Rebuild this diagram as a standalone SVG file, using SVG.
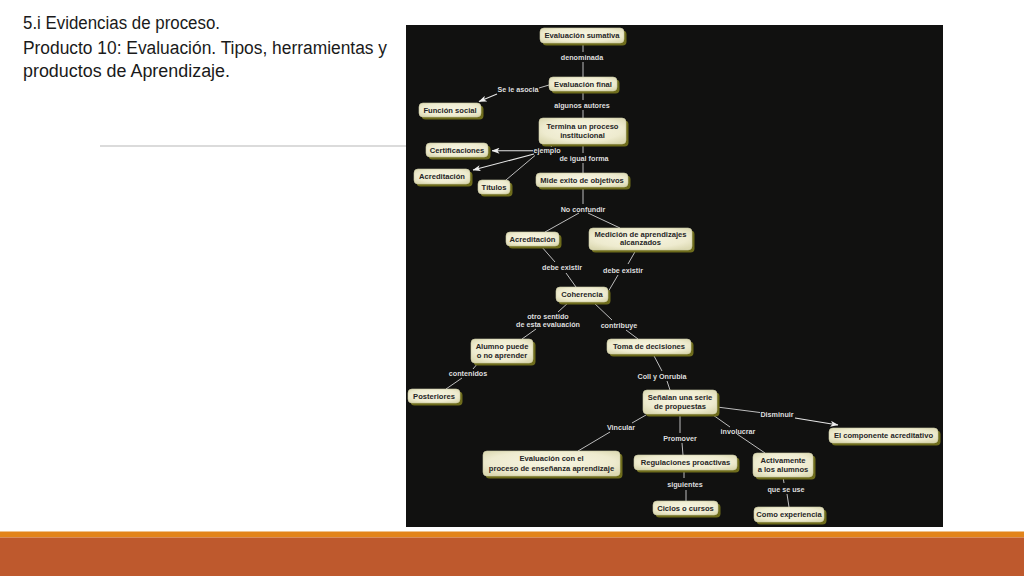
<svg xmlns="http://www.w3.org/2000/svg" width="1024" height="576" viewBox="0 0 1024 576">
<defs>
<radialGradient id="nf" cx="50%" cy="45%" r="65%">
<stop offset="0" stop-color="#F7F5E2"/>
<stop offset="0.7" stop-color="#EEEBCF"/>
<stop offset="1" stop-color="#DCD9B2"/>
</radialGradient>
<marker id="ar" viewBox="0 0 8 6" refX="7.5" refY="3" markerWidth="8" markerHeight="6" markerUnits="userSpaceOnUse" orient="auto">
<path d="M0,0 L8,3 L0,6 L2,3 z" fill="#eeeeee"/>
</marker>
</defs>
<style>
.title{font-family:"Liberation Sans",Arial,sans-serif;font-size:18px;fill:#1a1a1a}
.sh{fill:#6E6C1C}
.face{fill:url(#nf);stroke:#CFCCA8;stroke-width:0.6}
.nt{font-family:"Liberation Sans",Arial,sans-serif;font-size:7.6px;font-weight:bold;fill:#262626;text-anchor:middle}
.lb{font-family:"Liberation Sans",Arial,sans-serif;font-size:7.2px;font-weight:bold;fill:#dedede;text-anchor:middle}
.ln{stroke:#bdbdbd;stroke-width:1;fill:none}
.arw{stroke:#e6e6e6;stroke-width:1.1;fill:none;marker-end:url(#ar)}
</style>
<rect x="0" y="0" width="1024" height="576" fill="#ffffff"/>
<text class="title" x="23" y="29" textLength="197" lengthAdjust="spacingAndGlyphs">5.i Evidencias de proceso.</text>
<text class="title" x="23" y="53.5" textLength="364" lengthAdjust="spacingAndGlyphs">Producto 10: Evaluación. Tipos, herramientas y</text>
<text class="title" x="23" y="77" textLength="207" lengthAdjust="spacingAndGlyphs">productos de Aprendizaje.</text>
<line x1="100" y1="146" x2="406" y2="146" stroke="#cfcfcf" stroke-width="1.5"/>
<rect x="406" y="25" width="537" height="502" fill="#111110"/>
<rect x="0" y="531.5" width="1024" height="6" fill="#E2841B"/>
<rect x="0" y="537.5" width="1024" height="38.5" fill="#BE592D"/>

<g id="connectors">
<line class="ln" x1="583" y1="43" x2="583" y2="52"/>
<text class="lb" x="582" y="59.5">denominada</text>
<line class="ln" x1="583" y1="62" x2="583" y2="77"/>

<line class="ln" x1="549" y1="85" x2="539" y2="88"/>
<text class="lb" x="518" y="91.5">Se le asocia</text>
<line class="arw" x1="497" y1="94" x2="479" y2="101.5"/>

<line class="ln" x1="583" y1="91" x2="583" y2="100"/>
<text class="lb" x="582" y="107.5">algunos autores</text>
<line class="ln" x1="583" y1="110" x2="583" y2="118"/>

<line class="ln" x1="553" y1="144" x2="551" y2="147"/>
<text class="lb" x="547" y="153">ejemplo</text>
<line class="arw" x1="533" y1="150.7" x2="492" y2="150.7"/>
<line class="arw" x1="534" y1="154" x2="473" y2="170"/>
<line class="ln" x1="535" y1="155.5" x2="506" y2="180"/>

<line class="ln" x1="583" y1="144" x2="583" y2="153"/>
<text class="lb" x="584" y="160.5">de igual forma</text>
<line class="ln" x1="583" y1="163" x2="583" y2="173"/>

<line class="ln" x1="583" y1="189" x2="583" y2="204"/>
<text class="lb" x="583" y="211.5">No confundir</text>
<line class="ln" x1="579" y1="213" x2="545" y2="232"/>
<line class="ln" x1="588" y1="213" x2="620" y2="228"/>

<line class="ln" x1="541" y1="246" x2="555" y2="262"/>
<text class="lb" x="562" y="269.5">debe existir</text>
<line class="ln" x1="566" y1="273" x2="576" y2="287"/>

<line class="ln" x1="636" y1="250" x2="628" y2="264"/>
<text class="lb" x="623" y="272.5">debe existir</text>
<line class="ln" x1="618" y1="275" x2="608" y2="292"/>

<line class="ln" x1="569" y1="302" x2="558" y2="312"/>
<text class="lb" x="548" y="319">otro sentido</text>
<text class="lb" x="548" y="327">de esta evaluación</text>
<line class="ln" x1="536" y1="329" x2="522" y2="339"/>

<line class="ln" x1="593" y1="302" x2="612" y2="320"/>
<text class="lb" x="619" y="327.5">contribuye</text>
<line class="ln" x1="626" y1="330" x2="638" y2="339"/>

<line class="ln" x1="478" y1="363" x2="473" y2="369"/>
<text class="lb" x="468" y="375.5">contenidos</text>
<line class="ln" x1="462" y1="378" x2="446" y2="389"/>

<line class="ln" x1="653" y1="354" x2="662" y2="371"/>
<text class="lb" x="662" y="378.5">Coll y Onrubia</text>
<line class="ln" x1="667" y1="381" x2="670" y2="390"/>

<line class="ln" x1="646" y1="415" x2="632" y2="423"/>
<text class="lb" x="621" y="429.5">Vincular</text>
<line class="ln" x1="610" y1="432" x2="578" y2="451"/>

<line class="ln" x1="680" y1="415" x2="680" y2="433"/>
<text class="lb" x="680" y="440.5">Promover</text>
<line class="ln" x1="682" y1="443" x2="683" y2="455"/>

<line class="ln" x1="713" y1="415" x2="730" y2="427"/>
<text class="lb" x="738" y="433.5">involucrar</text>
<line class="ln" x1="737" y1="434" x2="765" y2="453"/>

<line class="ln" x1="717" y1="407" x2="760" y2="412.5"/>
<text class="lb" x="777" y="416.5">Disminuir</text>
<line class="arw" x1="795" y1="418" x2="838" y2="425"/>

<line class="ln" x1="684" y1="470" x2="684" y2="478"/>
<text class="lb" x="685" y="486.5">siguientes</text>
<line class="ln" x1="686" y1="490" x2="686" y2="501"/>

<line class="ln" x1="783" y1="477" x2="784" y2="483"/>
<text class="lb" x="786" y="491.5">que se use</text>
<line class="ln" x1="787" y1="494" x2="789" y2="507"/>
</g>

<g id="n-sumativa"><rect class="sh" x="542.5" y="30.5" width="84" height="15" rx="4"/><rect class="face" x="540" y="28" width="84" height="15" rx="4"/><text class="nt" x="582" y="38.3">Evaluación sumativa</text></g>
<g id="n-final"><rect class="sh" x="551.5" y="79.5" width="68" height="14" rx="4"/><rect class="face" x="549" y="77" width="68" height="14" rx="4"/><text class="nt" x="583" y="86.8">Evaluación final</text></g>
<g id="n-funcion"><rect class="sh" x="421.5" y="105.5" width="62" height="14" rx="4"/><rect class="face" x="419" y="103" width="62" height="14" rx="4"/><text class="nt" x="450" y="112.8">Función social</text></g>
<g id="n-termina"><rect class="sh" x="541.5" y="120.5" width="87" height="26" rx="4"/><rect class="face" x="539" y="118" width="87" height="26" rx="4"/><text class="nt" x="582.5" y="128.8">Termina un proceso</text><text class="nt" x="582.5" y="137.8">institucional</text></g>
<g id="n-certificaciones"><rect class="sh" x="428.5" y="145.5" width="62" height="14" rx="4"/><rect class="face" x="426" y="143" width="62" height="14" rx="4"/><text class="nt" x="457" y="152.8">Certificaciones</text></g>
<g id="n-acreditacion1"><rect class="sh" x="416.5" y="171.5" width="56" height="15" rx="4"/><rect class="face" x="414" y="169" width="56" height="15" rx="4"/><text class="nt" x="442" y="179.3">Acreditación</text></g>
<g id="n-titulos"><rect class="sh" x="480.5" y="182.5" width="32" height="14" rx="4"/><rect class="face" x="478" y="180" width="32" height="14" rx="4"/><text class="nt" x="494" y="189.8">Títulos</text></g>
<g id="n-mide"><rect class="sh" x="538.5" y="175.5" width="92" height="14" rx="4"/><rect class="face" x="536" y="173" width="92" height="14" rx="4"/><text class="nt" x="582" y="182.8">Mide exito de objetivos</text></g>
<g id="n-acreditacion2"><rect class="sh" x="508.5" y="234.5" width="53" height="14" rx="4"/><rect class="face" x="506" y="232" width="53" height="14" rx="4"/><text class="nt" x="532.5" y="241.8">Acreditación</text></g>
<g id="n-medicion"><rect class="sh" x="591.5" y="230.5" width="103" height="22" rx="4"/><rect class="face" x="589" y="228" width="103" height="22" rx="4"/><text class="nt" x="640.5" y="236.5">Medición de aprendizajes</text><text class="nt" x="640.5" y="245.3">alcanzados</text></g>
<g id="n-coherencia"><rect class="sh" x="558.5" y="289.5" width="52" height="15" rx="4"/><rect class="face" x="556" y="287" width="52" height="15" rx="4"/><text class="nt" x="582" y="297.3">Coherencia</text></g>
<g id="n-alumno"><rect class="sh" x="473.5" y="341.5" width="62" height="24" rx="4"/><rect class="face" x="471" y="339" width="62" height="24" rx="4"/><text class="nt" x="502" y="348.6">Alumno puede</text><text class="nt" x="502" y="357.6">o no aprender</text></g>
<g id="n-toma"><rect class="sh" x="609.5" y="341.5" width="84" height="15" rx="4"/><rect class="face" x="607" y="339" width="84" height="15" rx="4"/><text class="nt" x="649" y="349.3">Toma de decisiones</text></g>
<g id="n-posteriores"><rect class="sh" x="410.5" y="391.5" width="52" height="14" rx="4"/><rect class="face" x="408" y="389" width="52" height="14" rx="4"/><text class="nt" x="434" y="398.8">Posteriores</text></g>
<g id="n-senalan"><rect class="sh" x="645.5" y="392.5" width="74" height="24" rx="4"/><rect class="face" x="643" y="390" width="74" height="24" rx="4"/><text class="nt" x="680" y="399.6">Señalan una serie</text><text class="nt" x="680" y="408.8">de propuestas</text></g>
<g id="n-evaluacion-proceso"><rect class="sh" x="485.5" y="453.5" width="137" height="25" rx="4"/><rect class="face" x="483" y="451" width="137" height="25" rx="4"/><text class="nt" x="551.5" y="461">Evaluación con el</text><text class="nt" x="551.5" y="470.5">proceso de enseñanza aprendizaje</text></g>
<g id="n-regulaciones"><rect class="sh" x="636.5" y="457.5" width="103" height="15" rx="4"/><rect class="face" x="634" y="455" width="103" height="15" rx="4"/><text class="nt" x="685.5" y="465.3">Regulaciones proactivas</text></g>
<g id="n-activamente"><rect class="sh" x="755.5" y="455.5" width="60" height="24" rx="4"/><rect class="face" x="753" y="453" width="60" height="24" rx="4"/><text class="nt" x="783" y="462.5">Activamente</text><text class="nt" x="783" y="471.8">a los alumnos</text></g>
<g id="n-componente"><rect class="sh" x="831.5" y="430.5" width="109" height="15" rx="4"/><rect class="face" x="829" y="428" width="109" height="15" rx="4"/><text class="nt" x="883.5" y="438.3">El componente acreditativo</text></g>
<g id="n-ciclos"><rect class="sh" x="655.5" y="503.5" width="65" height="14" rx="4"/><rect class="face" x="653" y="501" width="65" height="14" rx="4"/><text class="nt" x="685.5" y="510.8">Ciclos o cursos</text></g>
<g id="n-experiencia"><rect class="sh" x="756.5" y="509.5" width="70" height="15" rx="4"/><rect class="face" x="754" y="507" width="70" height="15" rx="4"/><text class="nt" x="789" y="517.3">Como experiencia</text></g>
</svg>
